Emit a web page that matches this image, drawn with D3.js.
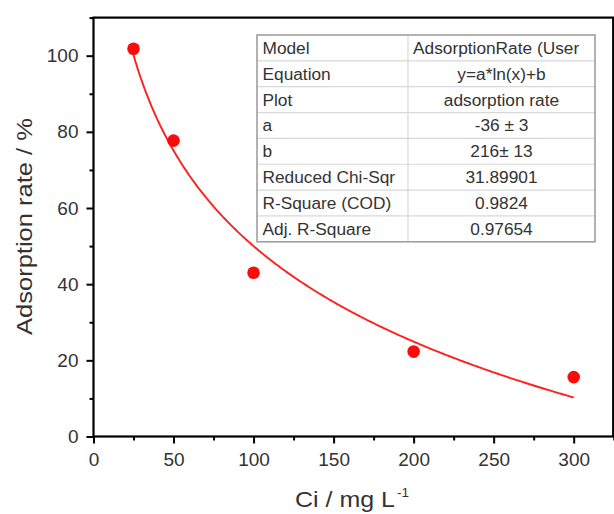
<!DOCTYPE html>
<html><head><meta charset="utf-8">
<script src="https://cdn.jsdelivr.net/npm/d3@7"></script>
<style>body{margin:0;background:#fff;} svg{display:block;}</style>
</head><body>
<script>
// ---- data ----
const concentrations = [25, 50, 100, 200, 300];
const adsorptionRates = [101.8, 77.7, 43.0, 22.3, 15.6];
const xMajorTicks = [0, 50, 100, 150, 200, 250, 300];
const xMinorTicks = [25, 75, 125, 175, 225, 275, 325];
const yMajorTicks = [0, 20, 40, 60, 80, 100];
const yMinorTicks = [10, 30, 50, 70, 90, 110];
const tableLabels = ["Model", "Equation", "Plot", "a", "b", "Reduced Chi-Sqr", "R-Square (COD)", "Adj. R-Square"];
const tableValues = ["AdsorptionRate (User", "y=a*ln(x)+b", "adsorption rate", "-36 ± 3", "216± 13", "31.89901", "0.9824", "0.97654"];

const W = 614, H = 514;
const svg = d3.select("body").append("svg").attr("width", W).attr("height", H);
const font = "'Liberation Sans', Arial, sans-serif";

const x = d3.scaleLinear().domain([0, 325]).range([93.5, 613.7]);
const y = d3.scaleLinear().domain([0, 110]).range([436.5, 17.6]);

// fit y = a ln x + b (least squares)
const lx = concentrations.map(Math.log);
const mx = d3.mean(lx), my = d3.mean(adsorptionRates);
const a = d3.sum(lx.map((v, i) => (v - mx) * (adsorptionRates[i] - my))) / d3.sum(lx.map(v => (v - mx) ** 2));
const b = my - a * mx;
const curveX = d3.range(25, 300.01, 1);

svg.append("path")
  .datum(curveX)
  .attr("fill", "none").attr("stroke", "#ff2020").attr("stroke-width", 1.9)
  .attr("d", d3.line().x(d => x(d)).y(d => y(a * Math.log(d) + b)));

svg.selectAll("circle.pt").data(concentrations).join("circle")
  .attr("class", "pt")
  .attr("cx", d => x(d)).attr("cy", (d, i) => y(adsorptionRates[i]))
  .attr("r", 6.3).attr("fill", "#ff0a0a");

// table
const tx0 = 257, tx1 = 408, tx2 = 595, ty0 = 35, rowH = 25.85;
const tbl = svg.append("g");
tableLabels.forEach((lab, i) => {
  const yc = ty0 + rowH * (i + 0.5);
  tbl.append("text").attr("x", tx0 + 5.5).attr("y", yc + 6)
    .attr("font-family", font).attr("font-size", 17.3).attr("fill", "#333").text(lab);
  const v = tbl.append("text").attr("y", yc + 6)
    .attr("font-family", font).attr("font-size", 17.3).attr("fill", "#333").text(tableValues[i]);
  if (i === 0) v.attr("x", tx1 + 5);
  else v.attr("x", (tx1 + tx2) / 2).attr("text-anchor", "middle");
});
for (let i = 1; i < 8; i++) {
  tbl.append("line").attr("x1", tx0).attr("x2", tx2)
    .attr("y1", ty0 + rowH * i).attr("y2", ty0 + rowH * i)
    .attr("stroke", "#d8d8d8").attr("stroke-width", 1.2);
}
tbl.append("line").attr("x1", tx1).attr("x2", tx1).attr("y1", ty0).attr("y2", ty0 + rowH * 8)
  .attr("stroke", "#d8d8d8").attr("stroke-width", 1.2);
tbl.append("rect").attr("x", tx0).attr("y", ty0).attr("width", tx2 - tx0).attr("height", rowH * 8)
  .attr("fill", "none").attr("stroke", "#999").attr("stroke-width", 1.5);

// axes
function styleAxis(g) {
  g.select(".domain").remove();
  g.selectAll(".tick line").attr("stroke", "#000").attr("stroke-width", 2);
  g.selectAll(".tick text").attr("font-family", font).attr("font-size", 19).attr("fill", "#333");
}
svg.append("g").attr("transform", `translate(0,${y(0)})`)
  .call(d3.axisBottom(x).tickValues(xMinorTicks).tickSize(4).tickFormat(""))
  .call(styleAxis);
svg.append("g").attr("transform", `translate(0,${y(0)})`)
  .call(d3.axisBottom(x).tickValues(xMajorTicks).tickSize(7).tickPadding(9).tickFormat(d3.format("d")))
  .call(styleAxis);
svg.append("g").attr("transform", `translate(${x(0)},0)`)
  .call(d3.axisLeft(y).tickValues(yMinorTicks).tickSize(4).tickFormat(""))
  .call(styleAxis);
svg.append("g").attr("transform", `translate(${x(0)},0)`)
  .call(d3.axisLeft(y).tickValues(yMajorTicks).tickSize(7).tickPadding(8).tickFormat(d3.format("d")))
  .call(styleAxis);

// frame
svg.append("rect").attr("x", x(0)).attr("y", y(110))
  .attr("width", x(325) - x(0) - 0.5).attr("height", y(0) - y(110))
  .attr("fill", "none").attr("stroke", "#000").attr("stroke-width", 2.2);

// axis titles
svg.append("text")
  .attr("transform", "translate(32,226.5) rotate(-90)")
  .attr("text-anchor", "middle")
  .attr("font-family", font).attr("font-size", 22).attr("fill", "#333")
  .attr("textLength", 217).attr("lengthAdjust", "spacingAndGlyphs")
  .text("Adsorption rate / %");

svg.append("text").attr("x", 295).attr("y", 506.5)
  .attr("font-family", font).attr("font-size", 22).attr("fill", "#333")
  .attr("textLength", 100).attr("lengthAdjust", "spacingAndGlyphs")
  .text("Ci / mg L");
svg.append("text").attr("x", 397).attr("y", 496.5)
  .attr("font-family", font).attr("font-size", 13.5).attr("fill", "#333")
  .text("-1");
</script>
</body></html>
